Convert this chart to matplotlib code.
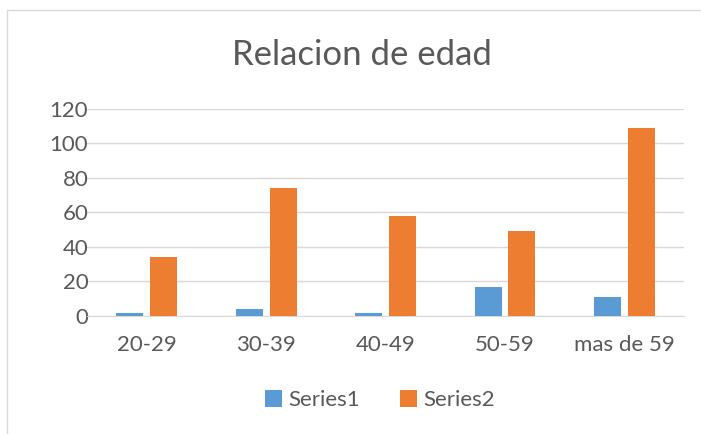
import matplotlib.pyplot as plt
import numpy as np
from matplotlib.patches import Rectangle

categories = ["20-29", "30-39", "40-49", "50-59", "mas de 59"]
series1 = [2, 4, 2, 17, 11]
series2 = [34, 74, 58, 49, 109]
yticks = [0, 20, 40, 60, 80, 100, 120]

plt.rcParams["font.family"] = ["Lato", "DejaVu Sans"]
text_color = "#595959"
grid_color = "#D9D9D9"

fig = plt.figure(figsize=(7.01, 4.34), dpi=100)
ax = fig.add_axes([0.124, 0.272, 0.852, 0.477])

x = np.arange(len(categories))
w = 0.226
off = 0.142
ax.bar(x - off, series1, w, color="#5B9BD5", label="Series1", zorder=3)
ax.bar(x + off, series2, w, color="#ED7D31", label="Series2", zorder=3)

ax.set_xlim(-0.5, len(categories) - 0.5)
ax.set_ylim(0, 120)
ax.set_yticks(yticks)
ax.set_xticks(x)
ax.set_xticklabels(categories)
ax.grid(axis="y", color=grid_color, linewidth=1, zorder=0)
ax.tick_params(axis="both", length=0, labelsize=16, colors=text_color)
ax.tick_params(axis="x", pad=14)
ax.tick_params(axis="y", pad=-1)
for side in ["top", "right", "left"]:
    ax.spines[side].set_visible(False)
ax.spines["bottom"].set_color(grid_color)

fig.text(0.516, 0.873, "Relacion de edad", ha="center", va="center",
         fontsize=25, color=text_color)

fig.legend(loc="center", bbox_to_anchor=(0.542, 0.078), ncol=2, frameon=False,
           fontsize=16, labelcolor=text_color, handlelength=0.75,
           handleheight=0.75, columnspacing=1.8, handletextpad=0.3)

fig.patches.append(Rectangle((7 / 701, -0.05), 1.1, 1 - 10 / 434 + 0.05,
                             transform=fig.transFigure, fill=False,
                             edgecolor=grid_color, linewidth=1))

fig.savefig("out.png", dpi=100)
